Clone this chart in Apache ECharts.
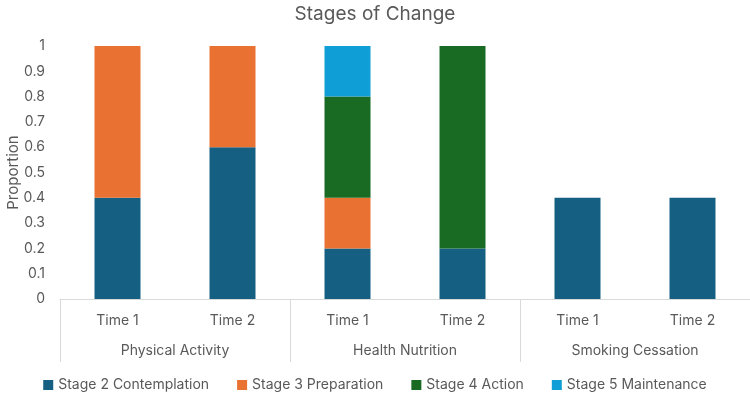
<!DOCTYPE html>
<html>
<head>
<meta charset="utf-8">
<script src="https://cdn.jsdelivr.net/npm/echarts@6/dist/echarts.min.js"></script>
<style>
    html, body { margin: 0; padding: 0; background: #fff; }
    #chart { width: 750px; height: 395px; }
</style>
</head>
<body>
<div id="chart"></div>
<script>
    var times = ['Time 1', 'Time 2', 'Time 1', 'Time 2', 'Time 1', 'Time 2'];
    var groups = ['Physical Activity', 'Health Nutrition', 'Smoking Cessation'];
    var stage2 = [0.4, 0.6, 0.2, 0.2, 0.4, 0.4];
    var stage3 = [0.6, 0.4, 0.2, 0, 0, 0];
    var stage4 = [0, 0, 0.4, 0.8, 0, 0];
    var stage5 = [0, 0, 0.2, 0, 0, 0];

    var txt = '#595959';
    var font = 'Inter, "Noto Sans", sans-serif';

    var chart = echarts.init(document.getElementById('chart'));

    function bar(name, data, color) {
        return {
            name: name,
            type: 'bar',
            stack: 'all',
            barWidth: '40%',
            itemStyle: { color: color },
            data: data
        };
    }

    var option = {
        textStyle: { fontFamily: font },
        title: {
            text: 'Stages of Change',
            left: 'center',
            top: 0,
            textStyle: { fontSize: 19, fontWeight: 'normal', color: txt, fontFamily: font }
        },
        legend: {
            top: 373,
            left: 'center',
            icon: 'rect',
            itemWidth: 10,
            itemHeight: 10,
            itemGap: 28,
            textStyle: { fontSize: 14, color: txt, fontFamily: font }
        },
        grid: { left: 60, right: 0, top: 46, bottom: 96, outerBoundsMode: 'none' },
        xAxis: [{
            type: 'category',
            data: times,
            axisLine: { lineStyle: { color: '#d9d9d9' } },
            axisTick: { show: false },
            axisLabel: { color: txt, fontSize: 14, margin: 15 }
        }, {
            type: 'category',
            data: groups,
            position: 'bottom',
            axisLine: { show: false },
            axisTick: { show: true, length: 63, lineStyle: { color: '#d9d9d9' } },
            axisLabel: { color: txt, fontSize: 14, margin: 45 }
        }],
        yAxis: {
            type: 'value',
            min: 0,
            max: 1,
            interval: 0.1,
            name: 'Proportion',
            nameLocation: 'middle',
            nameGap: 39,
            nameMoveOverlap: false,
            nameTextStyle: { color: txt, fontSize: 15 },
            splitLine: { show: false },
            axisLine: { show: false },
            axisLabel: { color: txt, fontSize: 14, margin: 15 }
        },
        series: [
            bar('Stage 2 Contemplation', stage2, '#156082'),
            bar('Stage 3 Preparation', stage3, '#E97132'),
            bar('Stage 4 Action', stage4, '#196B24'),
            bar('Stage 5 Maintenance', stage5, '#0F9ED5')
        ]
    };

    chart.setOption(option);
</script>
</body>
</html>
